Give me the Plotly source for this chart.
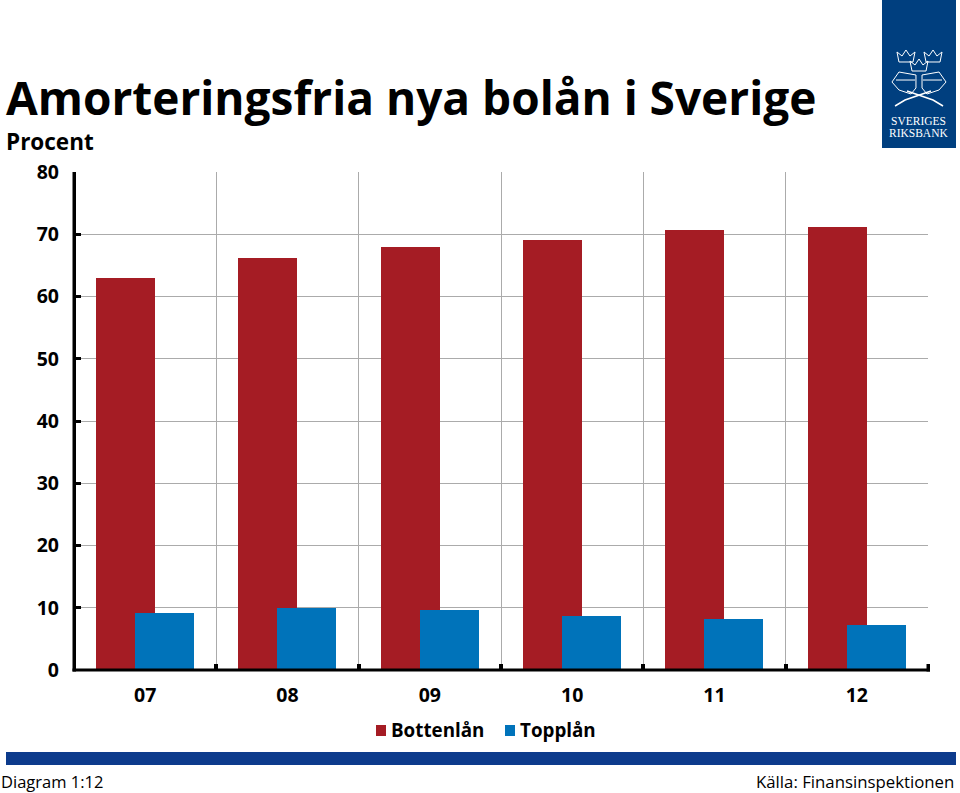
import plotly.graph_objects as go

years = ["07", "08", "09", "10", "11", "12"]
series_names = ["Bottenlån", "Topplån"]
bottenlan = [63.0, 66.2, 67.9, 69.1, 70.7, 71.1]
topplan = [9.2, 10.0, 9.6, 8.7, 8.2, 7.3]
yticks = [0, 10, 20, 30, 40, 50, 60, 70, 80]

W, H = 960, 793
L, R, T, B = 74, 928, 172, 670
FONT = "Open Sans"
RED = "#A51C24"
BLUE = "#0073BA"
NAVY = "#003F7F"


def px(x):
    return (x - L) / (R - L)


def py(y):
    return (B - y) / (B - T)


fig = go.Figure()
fig.add_bar(name=series_names[0], x=years, y=bottenlan, marker=dict(color=RED, line_width=0),
            width=0.415, offset=-0.345)
fig.add_bar(name=series_names[1], x=years, y=topplan, marker=dict(color=BLUE, line_width=0),
            width=0.415, offset=-0.071)


def rect(x0, x1, y0, y1, color):
    return dict(type="rect", xref="paper", yref="paper", x0=px(x0), x1=px(x1), y0=py(y0), y1=py(y1),
                fillcolor=color, line_width=0, layer="above")


shapes = [
    rect(6, 956, 752, 765, "#0D3B8C"),
    rect(882, 956, 0, 148, NAVY),
    rect(72.5, 76, 172, 671.5, "black"),      # value axis line
    rect(72.5, 930, 668.5, 671.5, "black"),   # category axis line
    rect(926.5, 930, 664, 671.5, "black"),    # last boundary tick
    rect(376, 386, 725, 736, RED),            # legend swatches
    rect(505, 515, 725, 736, BLUE),
]


def logo_path(pts, close=True):
    s = "M " + " L ".join(f"{px(a):.4f},{py(b):.4f}" for a, b in pts)
    return s + (" Z" if close else "")


def crown(cx, cy):
    return dict(type="path", xref="paper", yref="paper", layer="above",
                path=logo_path([(cx - 7, cy + 6), (cx - 9, cy - 4), (cx - 4, cy), (cx, cy - 6),
                                (cx + 4, cy), (cx + 9, cy - 4), (cx + 7, cy + 6)]),
                line=dict(color="white", width=1), fillcolor="rgba(0,0,0,0)")


shapes += [crown(906, 56), crown(933, 56), crown(919, 65)]
for d in (-1, 1):
    cx = 919
    shapes.append(dict(type="path", xref="paper", yref="paper", layer="above",
                       path=logo_path([(cx + d * 3, 75), (cx + d * 20, 72), (cx + d * 27, 82),
                                       (cx + d * 20, 90), (cx + d * 8, 94), (cx + d * 3, 88)]),
                       line=dict(color="white", width=1), fillcolor="rgba(0,0,0,0)"))
    shapes.append(dict(type="path", xref="paper", yref="paper", layer="above",
                       path=logo_path([(cx + d * 4, 80), (cx + d * 23, 80)], False),
                       line=dict(color="white", width=1)))
    shapes.append(dict(type="path", xref="paper", yref="paper", layer="above",
                       path=logo_path([(cx + d * 12, 91), (cx - d * 14, 100), (cx - d * 24, 106)], False),
                       line=dict(color="white", width=1.5)))

annotations = [
    dict(text="<b>Amorteringsfria nya bolån i Sverige</b>", x=px(5), y=py(97), font=dict(size=46, color="black")),
    dict(text="<b>Procent</b>", x=px(5), y=py(142), font=dict(size=22.5, color="black")),
    dict(text="Diagram 1:12", x=px(0), y=py(781), font=dict(size=16.5, color="black")),
    dict(text="Källa: Finansinspektionen", x=px(955), y=py(781), xanchor="right", font=dict(size=16.8, color="black")),
    dict(text="SVERIGES", x=px(918), y=py(121), xanchor="center", font=dict(size=11.5, color="white", family="Liberation Serif")),
    dict(text="RIKSBANK", x=px(918), y=py(133), xanchor="center", font=dict(size=11.5, color="white", family="Liberation Serif")),
    dict(text=f"<b>{series_names[0]}</b>", x=px(390), y=py(730), font=dict(size=18.8, color="black")),
    dict(text=f"<b>{series_names[1]}</b>", x=px(519), y=py(730), font=dict(size=18.8, color="black")),
]
for a in annotations:
    a.update(xref="paper", yref="paper", showarrow=False, yanchor="middle", borderpad=0)
    a.setdefault("xanchor", "left")

fig.update_layout(
    width=W, height=H, autosize=False, barmode="overlay", bargap=0, showlegend=False,
    margin=dict(l=L, r=W - R, t=T, b=H - B, pad=0, autoexpand=False),
    paper_bgcolor="white", plot_bgcolor="white",
    font=dict(family=FONT, color="black"),
    shapes=shapes, annotations=annotations,
    xaxis=dict(type="category", tickson="boundaries", showgrid=True, gridcolor="#ABABAB", gridwidth=1,
               ticks="inside", ticklen=6, tickwidth=4, tickcolor="black",
               showline=False, automargin=False,
               tickfont=dict(size=19.5, weight="bold"), ticklabelstandoff=11),
    yaxis=dict(range=[0, 80], tickvals=yticks, showgrid=True, gridcolor="#ABABAB", gridwidth=1,
               ticks="inside", ticklen=7, tickwidth=3, tickcolor="black",
               showline=False, zeroline=False, automargin=False,
               tickfont=dict(size=19.5, weight="bold"), ticklabelstandoff=14),
)
fig.write_html("out.html", post_script="document.body.style.margin='0';",
               config=dict(displayModeBar=False))
